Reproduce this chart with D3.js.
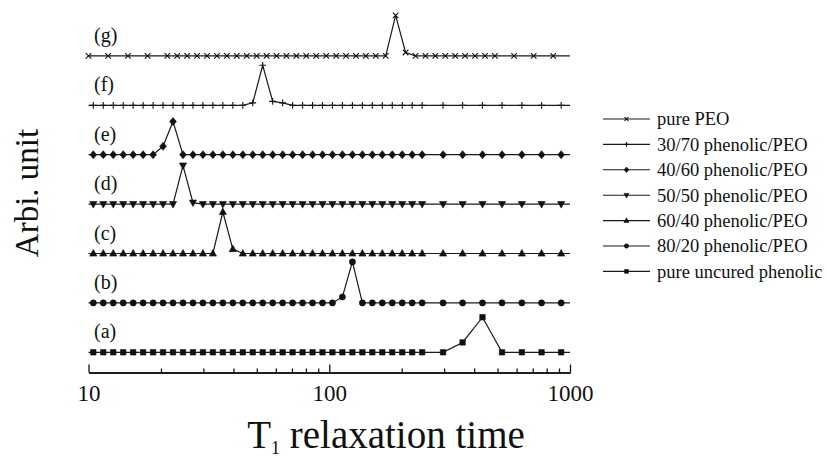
<!doctype html>
<html>
<head>
  <title>T1 relaxation time distribution</title>
  <script src="https://d3js.org/d3.v7.min.js"></script>
  <style>
  body {
    margin: 0;
    background: #fff;
  }

  svg text {
    font-family: "Liberation Serif", "Times New Roman", Times, serif;
    fill: #111;
  }

  .trace {
    fill: none;
    stroke: #1a1a1a;
    stroke-width: 1.2;
  }

  .mark {
    fill: #111;
    stroke: #111;
    stroke-width: 0.6;
  }

  .mark.open {
    fill: none;
    stroke-width: 1.1;
  }

  .axis path,
  .axis line {
    stroke: #111;
    stroke-width: 1.3;
  }

  .axis text {
    font-size: 23px;
  }
  </style>
</head>
<body>
  <script>
    // T1 grid shared by traces (a)-(f): dense steps, then every other step
    var tGrid = [10.47, 11.52, 12.67, 13.94, 15.33, 16.86, 18.55, 20.40, 22.44, 24.69,
                 27.16, 29.87, 32.86, 36.15, 39.76, 43.74, 48.11, 52.92, 58.22, 64.04,
                 70.44, 77.49, 85.24, 93.76, 103.1, 113.4, 124.8, 137.3, 151.0, 166.1,
                 182.7, 201.0, 221.1, 243.2, 297, 358, 433, 522, 631, 762, 919];

    // T1 grid of the pure PEO trace (g)
    var tGridPEO = [10, 12.07, 14.58, 17.60, 21.25, 23.37, 25.69, 28.25, 31.07, 34.16,
                    37.56, 41.30, 45.42, 49.94, 54.92, 60.39, 66.40, 73.02, 80.29, 88.29,
                    97.09, 106.8, 117.4, 129.1, 141.9, 156.1, 171.6, 188.7, 207.5, 228.2,
                    250.9, 275.9, 303.4, 333.6, 366.8, 403.4, 443.5, 487.7, 585.5, 706.3, 851.6];

    // relative intensity of each trace (one value per grid point)
    var yPhenolic = [0, 0, 0, 0, 0, 0, 0, 0, 0, 0,
                     0, 0, 0, 0, 0, 0, 0, 0, 0, 0,
                     0, 0, 0, 0, 0, 0, 0, 0, 0, 0,
                     0, 0, 0, 0, 0, 0.20, 0.71, 0, 0, 0, 0];
    var y8020 = [0, 0, 0, 0, 0, 0, 0, 0, 0, 0,
                 0, 0, 0, 0, 0, 0, 0, 0, 0, 0,
                 0, 0, 0, 0, 0, 0.12, 0.83, 0, 0, 0,
                 0, 0, 0, 0, 0, 0, 0, 0, 0, 0, 0];
    var y6040 = [0, 0, 0, 0, 0, 0, 0, 0, 0, 0,
                 0, 0, 0, 0.84, 0.09, 0, 0, 0, 0, 0,
                 0, 0, 0, 0, 0, 0, 0, 0, 0, 0,
                 0, 0, 0, 0, 0, 0, 0, 0, 0, 0, 0];
    var y5050 = [0, 0, 0, 0, 0, 0, 0, 0, 0, 0.78,
                 0.03, 0, 0, 0, 0, 0, 0, 0, 0, 0,
                 0, 0, 0, 0, 0, 0, 0, 0, 0, 0,
                 0, 0, 0, 0, 0, 0, 0, 0, 0, 0, 0];
    var y4060 = [0, 0, 0, 0, 0, 0, 0, 0.17, 0.67, 0,
                 0, 0, 0, 0, 0, 0, 0, 0, 0, 0,
                 0, 0, 0, 0, 0, 0, 0, 0, 0, 0,
                 0, 0, 0, 0, 0, 0, 0, 0, 0, 0, 0];
    var y3070 = [0, 0, 0, 0, 0, 0, 0, 0, 0, 0,
                 0, 0, 0, 0, 0, 0, 0.05, 0.81, 0.08, 0.05,
                 0, 0, 0, 0, 0, 0, 0, 0, 0, 0,
                 0, 0, 0, 0, 0, 0, 0, 0, 0, 0, 0];
    var yPEO = [0, 0, 0, 0, 0, 0, 0, 0, 0, 0,
                0, 0, 0, 0, 0, 0, 0, 0, 0, 0,
                0, 0, 0, 0, 0, 0, 0, 0.82, 0.07, 0,
                0, 0, 0, 0, 0, 0, 0, 0, 0, 0, 0];

    var tags = ["(a)", "(b)", "(c)", "(d)", "(e)", "(f)", "(g)"];
    var names = ["pure uncured phenolic", "80/20 phenolic/PEO", "60/40 phenolic/PEO",
                 "50/50 phenolic/PEO", "40/60 phenolic/PEO", "30/70 phenolic/PEO", "pure PEO"];
    var shapes = ["square", "circle", "up", "down", "diamond", "plus", "cross"];
    var grids = [tGrid, tGrid, tGrid, tGrid, tGrid, tGrid, tGridPEO];
    var values = [yPhenolic, y8020, y6040, y5050, y4060, y3070, yPEO];

    var majorTicks = [10, 100, 1000];
    var minorTicks = [20, 30, 40, 50, 60, 70, 80, 90, 200, 300, 400, 500, 600, 700, 800, 900];

    var width = 827,
        height = 457;

    var x = d3.scaleLog()
        .domain([10, 1000])
        .range([88.5, 570]);

    // each trace sits one unit above the previous one
    var y = d3.scaleLinear()
        .domain([0, 7])
        .range([352.3, 6.5]);

    var series = names.map(function(name, i){
      return {
        name: name,
        tag: tags[i],
        shape: shapes[i],
        offset: i,
        points: grids[i].map(function(t, j){ return {t: t, v: values[i][j]}; })
      };
    });

    function marker(shape, s){
      s = s || 1;
      var a = 3.4 * s, b = 4 * s;
      switch(shape){
        case "square": return d3.symbol(d3.symbolSquare, 30 * s * s)();
        case "circle": return d3.symbol(d3.symbolCircle, 30 * s * s)();
        case "up": return "M0," + (-b) + "L" + (3.6 * s) + "," + (2.6 * s) + "L" + (-3.6 * s) + "," + (2.6 * s) + "Z";
        case "down": return "M0," + b + "L" + (3.6 * s) + "," + (-2.6 * s) + "L" + (-3.6 * s) + "," + (-2.6 * s) + "Z";
        case "diamond": return "M0," + (-b) + "L" + a + ",0L0," + b + "L" + (-a) + ",0Z";
        case "plus": return "M" + (-a) + ",0H" + a + "M0," + (-a) + "V" + a;
        case "cross": return "M" + (-2.8 * s) + "," + (-2.8 * s) + "L" + (2.8 * s) + "," + (2.8 * s) +
                             "M" + (-2.8 * s) + "," + (2.8 * s) + "L" + (2.8 * s) + "," + (-2.8 * s);
      }
    }

    function isOpen(shape){ return shape === "plus" || shape === "cross"; }

    var svg = d3.select("body").append("svg")
        .attr("width", width)
        .attr("height", height);

    var line = d3.line()
        .x(function(d){ return x(d.t); })
        .y(function(d){ return y(d.v); });

    var trace = svg.selectAll(".series")
        .data(series)
      .enter().append("g")
        .attr("class", "series");

    // baseline runs over the whole axis, markers only at the grid points
    trace.append("path")
        .attr("class", "trace")
        .attr("d", function(s){
          var pts = [{t: 10, v: s.offset}]
            .concat(s.points.map(function(p){ return {t: p.t, v: s.offset + p.v}; }))
            .concat([{t: 1000, v: s.offset}]);
          return line(pts);
        });

    trace.each(function(s){
      d3.select(this).selectAll(".mark")
          .data(s.points)
        .enter().append("path")
          .attr("class", "mark" + (isOpen(s.shape) ? " open" : ""))
          .attr("transform", function(p){ return "translate(" + x(p.t) + "," + y(s.offset + p.v) + ")"; })
          .attr("d", marker(s.shape));
    });

    trace.append("text")
        .attr("x", 94)
        .attr("y", function(s){ return y(s.offset) - 14; })
        .style("font-size", "20px")
        .text(function(s){ return s.tag; });

    // x axis: long ticks at decades, short ones in between, both pointing up
    var axisY = 372.5;

    svg.append("g")
        .attr("class", "axis")
        .attr("transform", "translate(0," + axisY + ")")
        .call(d3.axisBottom(x).tickValues(minorTicks).tickSizeInner(-4).tickSizeOuter(0).tickFormat(""));

    svg.append("g")
        .attr("class", "axis")
        .attr("transform", "translate(0," + axisY + ")")
        .call(d3.axisBottom(x).tickValues(majorTicks).tickSizeInner(-8).tickSizeOuter(0)
          .tickPadding(12).tickFormat(d3.format("d")));

    var xTitle = svg.append("text")
        .attr("x", 386)
        .attr("y", 448)
        .attr("text-anchor", "middle")
        .style("font-size", "39px");
    xTitle.append("tspan").text("T");
    xTitle.append("tspan").attr("dy", 6).style("font-size", "18px").text("1");
    xTitle.append("tspan").attr("dy", -6).text(" relaxation time");

    svg.append("text")
        .attr("transform", "translate(38,193) rotate(-90)")
        .attr("text-anchor", "middle")
        .style("font-size", "33px")
        .text("Arbi. unit");

    // legend, top entry first
    var legend = svg.selectAll(".legend")
        .data(series.slice().reverse())
      .enter().append("g")
        .attr("class", "legend")
        .attr("transform", function(d, i){ return "translate(603," + (119 + i * 25.4) + ")"; });

    legend.append("line")
        .attr("x1", 0)
        .attr("x2", 47)
        .style("stroke", "#1a1a1a")
        .style("stroke-width", 1.1);

    legend.append("path")
        .attr("class", function(d){ return "mark" + (isOpen(d.shape) ? " open" : ""); })
        .attr("transform", "translate(23.5,0)")
        .attr("d", function(d){ return marker(d.shape, 0.7); });

    legend.append("text")
        .attr("x", 54)
        .attr("dy", "0.35em")
        .style("font-size", "18.5px")
        .text(function(d){ return d.name; });
  </script>
</body>
</html>
